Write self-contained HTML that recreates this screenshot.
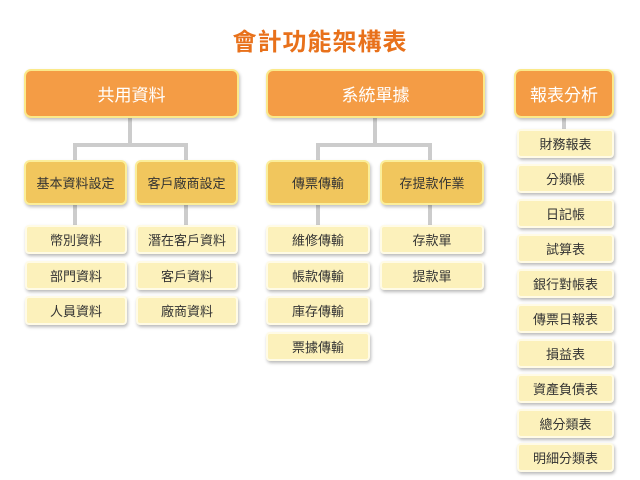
<!DOCTYPE html>
<html><head><meta charset="utf-8"><style>
body{margin:0;width:640px;height:480px;background:#fff;position:relative;overflow:hidden;font-family:"Liberation Sans","Noto Sans CJK TC",sans-serif;}
.b{position:absolute;box-sizing:border-box;display:flex;align-items:center;justify-content:center;}
.t{background:#f49c45;border:2px solid #fbe98a;border-radius:7px;color:#fff;font-size:17px;box-shadow:1px 2px 3px rgba(0,0,0,.25);}
.m{background:#f1c65d;border:2px solid #fbee9a;border-radius:6px;color:#333;font-size:13px;box-shadow:1px 2px 3px rgba(0,0,0,.25);}
.l{background:#fcf1bb;border:2px solid #fffbe6;border-radius:4px;color:#333;font-size:13px;box-shadow:1px 2px 3px rgba(0,0,0,.28);}
.c{position:absolute;background:#ccc;}
h1{position:absolute;left:0;width:640px;top:22px;margin:0;text-align:center;font-size:24px;color:#e8711b;font-weight:bold;letter-spacing:1px;}
</style></head><body>
<h1>會計功能架構表</h1>
<div class="c" style="left:128px;top:118px;width:4px;height:28px"></div>
<div class="c" style="left:73px;top:143px;width:115px;height:4px"></div>
<div class="c" style="left:73px;top:143px;width:4px;height:18px"></div>
<div class="c" style="left:184px;top:143px;width:4px;height:18px"></div>
<div class="c" style="left:73px;top:205px;width:4px;height:21px"></div>
<div class="c" style="left:184px;top:205px;width:4px;height:21px"></div>
<div class="c" style="left:373px;top:118px;width:4px;height:28px"></div>
<div class="c" style="left:316px;top:143px;width:116px;height:4px"></div>
<div class="c" style="left:316px;top:143px;width:4px;height:18px"></div>
<div class="c" style="left:428px;top:143px;width:4px;height:18px"></div>
<div class="c" style="left:316px;top:205px;width:4px;height:21px"></div>
<div class="c" style="left:428px;top:205px;width:4px;height:21px"></div>
<div class="c" style="left:562px;top:118px;width:4px;height:12px"></div>

<div class="b t" style="left:24px;top:69px;width:215px;height:49px">共用資料</div>
<div class="b t" style="left:266px;top:69px;width:219px;height:49px">系統單據</div>
<div class="b t" style="left:514px;top:69px;width:100px;height:49px">報表分析</div>

<div class="b m" style="left:24px;top:160px;width:103px;height:45px">基本資料設定</div>
<div class="b m" style="left:135px;top:160px;width:103px;height:45px">客戶廠商設定</div>
<div class="b m" style="left:266px;top:160px;width:104px;height:45px">傳票傳輸</div>
<div class="b m" style="left:380px;top:160px;width:104px;height:45px">存提款作業</div>

<div class="b l" style="left:25px;top:225px;width:102px;height:29px">幣別資料</div>
<div class="b l" style="left:25px;top:261px;width:102px;height:29px">部門資料</div>
<div class="b l" style="left:25px;top:296px;width:102px;height:29px">人員資料</div>
<div class="b l" style="left:136px;top:225px;width:102px;height:29px">潛在客戶資料</div>
<div class="b l" style="left:136px;top:261px;width:102px;height:29px">客戶資料</div>
<div class="b l" style="left:136px;top:296px;width:102px;height:29px">廠商資料</div>
<div class="b l" style="left:266px;top:225px;width:104px;height:29px">維修傳輸</div>
<div class="b l" style="left:266px;top:261px;width:104px;height:29px">帳款傳輸</div>
<div class="b l" style="left:266px;top:296px;width:104px;height:29px">庫存傳輸</div>
<div class="b l" style="left:266px;top:332px;width:104px;height:29px">票據傳輸</div>
<div class="b l" style="left:380px;top:225px;width:104px;height:29px">存款單</div>
<div class="b l" style="left:380px;top:261px;width:104px;height:29px">提款單</div>

<div class="b l" style="left:517px;top:129px;width:97px;height:29px">財務報表</div>
<div class="b l" style="left:517px;top:164px;width:97px;height:29px">分類帳</div>
<div class="b l" style="left:517px;top:199px;width:97px;height:29px">日記帳</div>
<div class="b l" style="left:517px;top:234px;width:97px;height:29px">試算表</div>
<div class="b l" style="left:517px;top:269px;width:97px;height:29px">銀行對帳表</div>
<div class="b l" style="left:517px;top:304px;width:97px;height:29px">傳票日報表</div>
<div class="b l" style="left:517px;top:339px;width:97px;height:29px">損益表</div>
<div class="b l" style="left:517px;top:374px;width:97px;height:29px">資產負債表</div>
<div class="b l" style="left:517px;top:409px;width:97px;height:29px">總分類表</div>
<div class="b l" style="left:517px;top:443px;width:97px;height:29px">明細分類表</div>
</body></html>
